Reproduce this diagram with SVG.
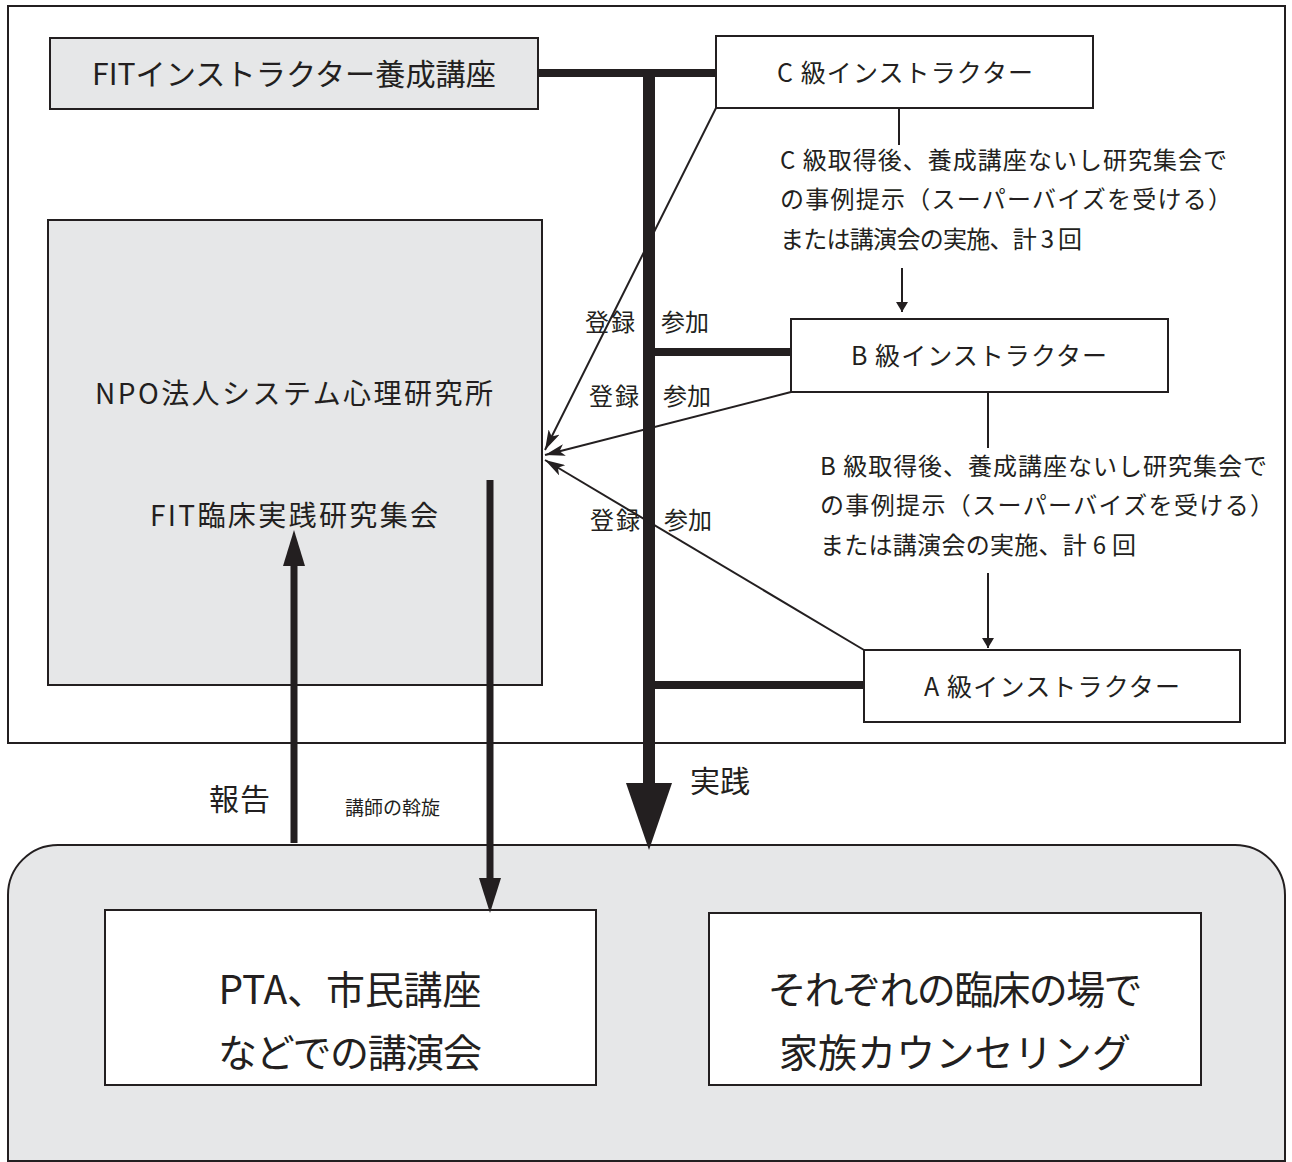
<svg xmlns="http://www.w3.org/2000/svg" width="1292" height="1162" viewBox="0 0 1292 1162">
<style>
text{font-family:"Noto Sans CJK JP","Noto Sans",sans-serif;fill:#231f20}
.box{fill:#fff;stroke:#231f20;stroke-width:2}
.gray{fill:#e6e7e8;stroke:#231f20;stroke-width:2}
.thick{stroke:#231f20;stroke-width:8;fill:none}
.thin{stroke:#231f20;stroke-width:2;fill:none}
.lbl{font-size:24px}
.desc{font-size:24px}
.inst{font-size:25px}
.big{font-size:39px}
</style>
<defs>
<marker id="ah" viewBox="0 0 20 12" refX="20" refY="6" markerWidth="20" markerHeight="12" markerUnits="userSpaceOnUse" orient="auto">
<path d="M0,0 L20,6 L0,12 L5,6 Z" fill="#231f20"/>
</marker>
<marker id="ahs" viewBox="0 0 10 12" refX="10" refY="6" markerWidth="10" markerHeight="12" markerUnits="userSpaceOnUse" orient="auto">
<path d="M0,0 L10,6 L0,12 Z" fill="#231f20"/>
</marker>
</defs>
<rect width="1292" height="1162" fill="#fff"/>
<rect id="frame" x="8" y="6" width="1277" height="737" fill="#fff" stroke="#231f20" stroke-width="2"/>
<path id="practice-area" d="M58,845 H1235 A50,50 0 0 1 1285,895 V1161 H8 V895 A50,50 0 0 1 58,845 Z" class="gray"/>

<g id="fit-course">
<rect class="gray" x="50" y="38" width="488" height="71"/>
<text x="294" y="85" font-size="30" text-anchor="middle" textLength="404" lengthAdjust="spacingAndGlyphs">FITインストラクター養成講座</text>
</g>
<g id="c-instructor">
<rect class="box" x="716" y="36" width="377" height="72"/>
<text class="inst" x="905" y="82" text-anchor="middle" textLength="256" lengthAdjust="spacing">C 級インストラクター</text>
</g>
<g id="c-desc">
<text class="desc" x="780" y="169" textLength="447" lengthAdjust="spacing">C 級取得後、養成講座ないし研究集会で</text>
<text class="desc" x="780" y="208" textLength="452" lengthAdjust="spacing">の事例提示（スーパーバイズを受ける）</text>
<text class="desc" x="780" y="248" textLength="302" lengthAdjust="spacing">または講演会の実施、計 3 回</text>
</g>
<g id="b-instructor">
<rect class="box" x="791" y="319" width="377" height="73"/>
<text class="inst" x="979" y="365" text-anchor="middle" textLength="256" lengthAdjust="spacing">B 級インストラクター</text>
</g>
<g id="b-desc">
<text class="desc" x="820" y="475" textLength="447" lengthAdjust="spacing">B 級取得後、養成講座ないし研究集会で</text>
<text class="desc" x="820" y="514" textLength="454" lengthAdjust="spacing">の事例提示（スーパーバイズを受ける）</text>
<text class="desc" x="820" y="554" textLength="316" lengthAdjust="spacing">または講演会の実施、計 6 回</text>
</g>
<g id="a-instructor">
<rect class="box" x="864" y="650" width="376" height="72"/>
<text class="inst" x="1052" y="696" text-anchor="middle" textLength="256" lengthAdjust="spacing">A 級インストラクター</text>
</g>
<g id="npo">
<rect class="gray" x="48" y="220" width="494" height="465"/>
<text x="294" y="404" font-size="28" text-anchor="middle" textLength="398" lengthAdjust="spacing">NPO法人システム心理研究所</text>
<text x="294" y="526" font-size="28" text-anchor="middle" textLength="288" lengthAdjust="spacing">FIT臨床実践研究集会</text>
</g>
<g id="pta">
<rect class="box" x="105" y="910" width="491" height="175"/>
<text class="big" x="350" y="1004" text-anchor="middle" textLength="263" lengthAdjust="spacing">PTA、市民講座</text>
<text class="big" x="350" y="1067" text-anchor="middle" textLength="264" lengthAdjust="spacing">などでの講演会</text>
</g>
<g id="clinical">
<rect class="box" x="709" y="913" width="492" height="172"/>
<text class="big" x="955" y="1004" text-anchor="middle" textLength="375" lengthAdjust="spacing">それぞれの臨床の場で</text>
<text class="big" x="955" y="1067" text-anchor="middle" textLength="352" lengthAdjust="spacing">家族カウンセリング</text>
</g>

<g id="connectors">
<line class="thick" x1="538" y1="73" x2="716" y2="73"/>
<line x1="649" y1="73" x2="649" y2="790" stroke="#231f20" stroke-width="12"/>
<path d="M626,783 L672,783 L649,850 Z" fill="#231f20"/>
<line class="thick" x1="655" y1="352" x2="791" y2="352"/>
<line class="thick" x1="655" y1="685" x2="864" y2="685"/>
<line class="thin" x1="899" y1="108" x2="899" y2="145"/>
<line class="thin" x1="902" y1="268" x2="902" y2="312" marker-end="url(#ahs)"/>
<line class="thin" x1="988" y1="392" x2="988" y2="448"/>
<line class="thin" x1="988" y1="573" x2="988" y2="648" marker-end="url(#ahs)"/>
<line class="thin" x1="716" y1="108" x2="545" y2="450" marker-end="url(#ah)"/>
<line class="thin" x1="791" y1="392" x2="545" y2="455" marker-end="url(#ah)"/>
<line class="thin" x1="864" y1="650" x2="545" y2="460" marker-end="url(#ah)"/>
<line x1="294" y1="843" x2="294" y2="560" stroke="#231f20" stroke-width="7"/>
<path d="M283,566 L305,566 L294,530 Z" fill="#231f20"/>
<line x1="490" y1="480" x2="490" y2="885" stroke="#231f20" stroke-width="7"/>
<path d="M479,878 L501,878 L490,913 Z" fill="#231f20"/>
<text class="lbl" x="585" y="331" textLength="50" lengthAdjust="spacing">登録</text>
<text class="lbl" x="661" y="331" textLength="48" lengthAdjust="spacing">参加</text>
<text class="lbl" x="589" y="405" textLength="50" lengthAdjust="spacing">登録</text>
<text class="lbl" x="663" y="405" textLength="48" lengthAdjust="spacing">参加</text>
<text class="lbl" x="590" y="529" textLength="50" lengthAdjust="spacing">登録</text>
<text class="lbl" x="664" y="529" textLength="48" lengthAdjust="spacing">参加</text>
<text x="209" y="810" font-size="30" textLength="61" lengthAdjust="spacing">報告</text>
<text x="345" y="815" font-size="19" textLength="95" lengthAdjust="spacing">講師の斡旋</text>
<text x="690" y="792" font-size="30" textLength="60" lengthAdjust="spacing">実践</text>
</g>
</svg>
